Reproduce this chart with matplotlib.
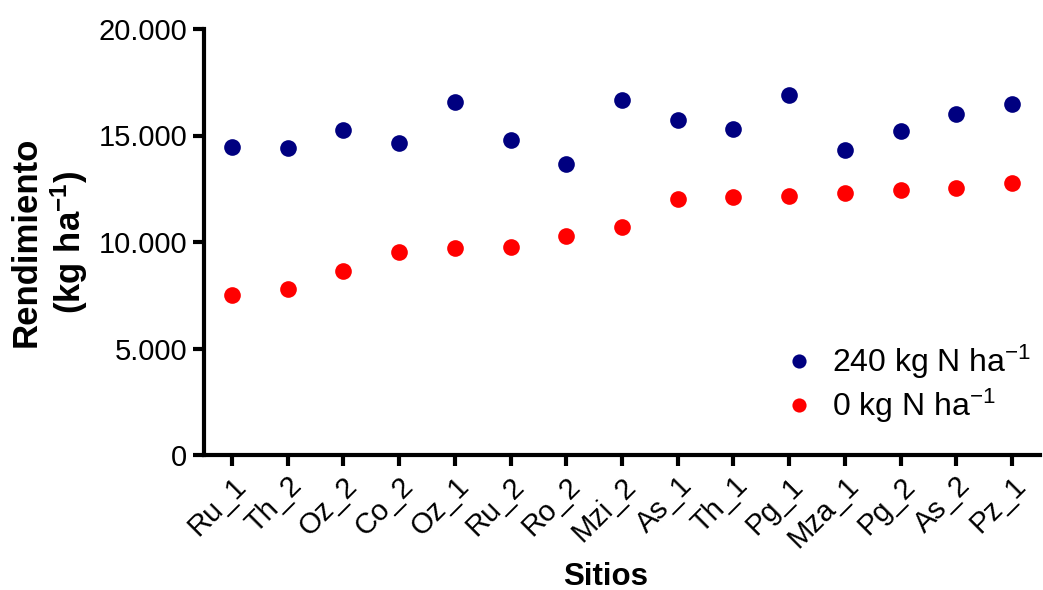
import matplotlib
matplotlib.use("Agg")
import matplotlib.pyplot as plt
from matplotlib.ticker import FuncFormatter

sitios = ["Ru_1", "Th_2", "Oz_2", "Co_2", "Oz_1", "Ru_2", "Ro_2", "Mzi_2",
          "As_1", "Th_1", "Pg_1", "Mza_1", "Pg_2", "As_2", "Pz_1"]
rend_240 = [14450, 14400, 15245, 14635, 16560, 14775, 13660, 16665,
            15715, 15290, 16915, 14320, 15225, 15995, 16495]
rend_0 = [7510, 7795, 8640, 9545, 9735, 9780, 10270, 10720,
          12005, 12125, 12175, 12300, 12430, 12535, 12755]

plt.rcParams['font.family'] = ['Liberation Sans', 'DejaVu Sans']
plt.rcParams['mathtext.fontset'] = 'custom'
plt.rcParams['mathtext.rm'] = 'Liberation Sans'
plt.rcParams['mathtext.it'] = 'Liberation Sans'
plt.rcParams['mathtext.bf'] = 'Liberation Sans:bold'

W, H = 1043, 590
fig = plt.figure(figsize=(W/100, H/100), dpi=100)
ax = fig.add_axes([204/W, 1-455/H, (1040-204)/W, (455-29)/H])

x = list(range(len(sitios)))
ax.plot(x, rend_240, 'o', color='#000080', markersize=12, markeredgewidth=0,
        label='240 kg N ha$^{\\mathregular{-1}}$', zorder=3)
ax.plot(x, rend_0, 'o', color='#ff0000', markersize=12, markeredgewidth=0,
        label='0 kg N ha$^{\\mathregular{-1}}$', zorder=3)

ax.set_xlim(-0.5, len(sitios) - 0.5)
ax.set_ylim(0, 20000)
ax.set_yticks([0, 5000, 10000, 15000, 20000])
ax.yaxis.set_major_formatter(FuncFormatter(lambda v, p: f"{int(v):,}".replace(",", ".")))
ax.set_xticks(x)
ax.set_xticklabels(sitios, rotation=45, ha='right', rotation_mode='anchor')

for s in ['top', 'right']:
    ax.spines[s].set_visible(False)
for s in ['left', 'bottom']:
    ax.spines[s].set_linewidth(3)
ax.tick_params(axis='both', width=3, length=8, labelsize=21, pad=4)

ax.set_ylabel('Rendimiento\n(kg ha$^{\\mathregular{-1}}$)', fontsize=25, fontweight='bold',
              linespacing=1.2)
ax.yaxis.set_label_coords(-0.136, 0.5)
ax.set_xlabel('Sitios', fontsize=22.5, fontweight='bold')
ax.xaxis.set_label_coords((606-204)/(1040-204), -(577-455)/(455-29), transform=ax.transAxes)
ax.xaxis.label.set_va('center')

leg = ax.legend(loc='upper left', bbox_to_anchor=(765/W, 1-327/H),
                bbox_transform=fig.transFigure, frameon=False, borderpad=0,
                fontsize=23, handletextpad=0.45, labelspacing=0.18,
                markerscale=0.85, handlelength=1.15)

fig.savefig('out.png', dpi=100)
